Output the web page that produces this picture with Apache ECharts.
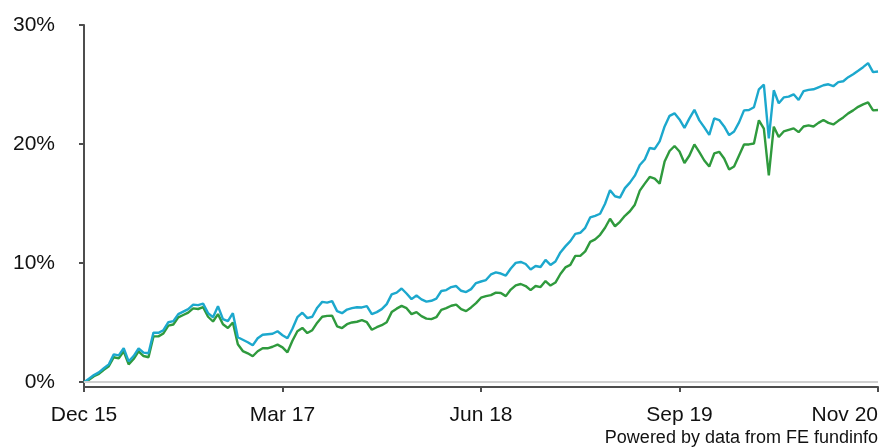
<!DOCTYPE html>
<html><head><meta charset="utf-8">
<script src="https://cdn.jsdelivr.net/npm/echarts@6/dist/echarts.min.js"></script>
<style>html,body{margin:0;padding:0;background:#fff}#c{width:881px;height:448px}</style>
</head><body><div id="c"></div>
<script>
// x tick labels sit at every 40th sample (0..160)
const tickLabels = ['Dec 15', 'Mar 17', 'Jun 18', 'Sep 19', 'Nov 20'];
const tickStep = 40;
const yTickValues = [0, 10, 20, 30];
const footerText = 'Powered by data from FE fundinfo';

// cumulative performance (%)
const cyanValues = [
  0.0, 0.3, 0.6, 0.83, 1.17, 1.5, 2.34, 2.26, 2.85, 1.75,
  2.2, 2.85, 2.49, 2.43, 4.17, 4.15, 4.37, 5.04, 5.13, 5.72,
  5.93, 6.14, 6.52, 6.48, 6.6, 5.8, 5.46, 6.39, 5.3, 5.13,
  5.8, 3.78, 3.57, 3.36, 3.1, 3.69, 3.99, 4.03, 4.07, 4.28,
  3.95, 3.69, 4.49, 5.46, 5.84, 5.38, 5.5, 6.26, 6.75, 6.69,
  6.81, 5.97, 5.8, 6.1, 6.22, 6.3, 6.28, 6.39, 5.72, 5.89,
  6.14, 6.56, 7.38, 7.53, 7.87, 7.45, 6.98, 7.28, 6.96, 6.77,
  6.84, 7.02, 7.66, 7.74, 7.99, 8.08, 7.68, 7.57, 7.82, 8.33,
  8.46, 8.58, 9.05, 9.22, 9.13, 8.96, 9.55, 10.02, 10.1, 9.93,
  9.47, 9.76, 9.68, 10.27, 9.85, 10.14, 10.9, 11.41, 11.85, 12.46,
  12.55, 12.97, 13.84, 13.98, 14.15, 14.99, 16.13, 15.62, 15.5, 16.3,
  16.76, 17.35, 18.24, 18.7, 19.67, 19.59, 20.22, 21.48, 22.37, 22.58,
  22.07, 21.36, 22.16, 22.88, 21.99, 21.4, 20.77, 22.16, 22.02, 21.48,
  20.75, 21.06, 21.82, 22.83, 22.86, 23.09, 24.6, 25.0, 20.47, 24.52,
  23.42, 23.92, 23.98, 24.18, 23.7, 24.44, 24.55, 24.6, 24.77, 24.94,
  25.02, 24.86, 25.2, 25.28, 25.62, 25.87, 26.16, 26.46, 26.8, 26.04, 26.1
];
const greenValues = [
  0.0, 0.2, 0.5, 0.7, 1.05, 1.35, 2.1, 2.0, 2.6, 1.5,
  1.95, 2.6, 2.2, 2.1, 3.85, 3.85, 4.1, 4.75, 4.85, 5.45,
  5.65, 5.85, 6.2, 6.15, 6.3, 5.5, 5.1, 5.72, 4.87, 4.56,
  5.02, 3.19, 2.62, 2.43, 2.18, 2.6, 2.85, 2.85, 2.98, 3.16,
  2.93, 2.51, 3.48, 4.28, 4.56, 4.13, 4.37, 5.0, 5.5, 5.57,
  5.59, 4.7, 4.55, 4.87, 5.02, 5.08, 5.21, 5.04, 4.41, 4.62,
  4.79, 5.04, 5.89, 6.18, 6.41, 6.22, 5.72, 5.89, 5.55, 5.34,
  5.3, 5.46, 6.08, 6.22, 6.42, 6.52, 6.14, 5.97, 6.28, 6.64,
  7.1, 7.23, 7.32, 7.53, 7.49, 7.23, 7.78, 8.14, 8.25, 8.08,
  7.74, 8.08, 7.99, 8.5, 8.12, 8.37, 9.09, 9.64, 9.85, 10.61,
  10.61, 10.99, 11.79, 12.0, 12.38, 12.97, 13.73, 13.1, 13.47, 13.98,
  14.36, 14.91, 16.09, 16.68, 17.24, 17.1, 16.68, 18.53, 19.42, 19.84,
  19.38, 18.41, 19.04, 19.97, 19.33, 18.62, 18.11, 19.21, 19.35, 18.79,
  17.86, 18.11, 19.04, 19.97, 19.97, 20.05, 22.0, 21.3, 17.38, 21.46,
  20.6, 21.06, 21.19, 21.32, 21.0, 21.48, 21.57, 21.48, 21.78, 22.02,
  21.78, 21.65, 21.95, 22.24, 22.58, 22.83, 23.13, 23.34, 23.51, 22.83, 22.86
];

const toPairs = arr => arr.map((v, i) => [i, v]);
const axisColor = '#4d4d4d';
const font = '"Liberation Sans", Arial, sans-serif';

const chart = echarts.init(document.getElementById('c'), null, {renderer: 'canvas'});
chart.setOption({
  animation: false,
  grid: {left: 84, right: 2, top: 25, bottom: 61, containLabel: false},
  xAxis: {
    type: 'value', min: 0, max: (tickLabels.length - 1) * tickStep, interval: tickStep,
    axisLine: {show: true, onZero: false, lineStyle: {color: axisColor, width: 2}},
    axisTick: {show: true, length: 5, lineStyle: {color: axisColor, width: 2}},
    splitLine: {show: false},
    axisLabel: {
      formatter: v => tickLabels[Math.round(v / tickStep)] || '',
      color: '#111', fontSize: 21, fontFamily: font, margin: 18,
      alignMaxLabel: 'right', showMaxLabel: true, showMinLabel: true
    }
  },
  yAxis: {
    type: 'value', min: -0.4, max: 30,
    axisLine: {show: true, lineStyle: {color: axisColor, width: 2}},
    axisTick: {show: true, length: 5, customValues: yTickValues, lineStyle: {color: axisColor, width: 2}},
    splitLine: {show: false},
    axisLabel: {
      customValues: yTickValues,
      formatter: v => v + '%',
      color: '#111', fontSize: 21, fontFamily: font, margin: 29
    }
  },
  graphic: [{
    type: 'text', right: 3, bottom: 1,
    style: {text: footerText, font: '18px ' + font, fill: '#111'}
  }],
  series: [
    {
      type: 'line', data: toPairs(greenValues), showSymbol: false, z: 2,
      lineStyle: {color: '#2f9a3d', width: 2.4}, itemStyle: {color: '#2f9a3d'},
      markLine: {
        silent: true, symbol: 'none', label: {show: false},
        lineStyle: {color: '#d0d0d0', width: 2, type: 'solid'},
        data: [{yAxis: 0}]
      }
    },
    {
      type: 'line', data: toPairs(cyanValues), showSymbol: false, z: 3,
      lineStyle: {color: '#1ca8cd', width: 2.4}, itemStyle: {color: '#1ca8cd'}
    }
  ]
});
</script>
</body></html>
